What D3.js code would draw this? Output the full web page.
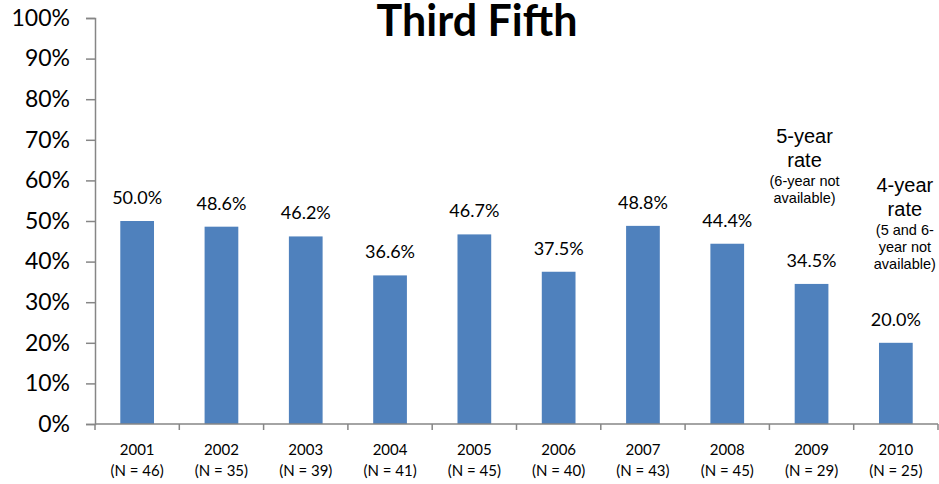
<!DOCTYPE html>
<html>
  <head>
    <meta charset="utf-8">
    <script src="https://d3js.org/d3.v7.min.js"></script>
    <title>Third Fifth</title>
    <style>
      body { margin: 0px; background: #fff; }
      svg { display: block; }
      .domain { stroke: #868686; stroke-width: 1.5px; }
      .tick line { stroke: #868686; stroke-width: 1.5px; }
      .y-axis .tick text { fill: #000; font-size: 23px; font-family: Lato, sans-serif; }
      .x-label { fill: #000; font-size: 15px; font-family: Lato, sans-serif; }
      .value-label { fill: #000; font-size: 18px; font-family: Lato, sans-serif; }
      .title { fill: #000; font-size: 43px; font-weight: bold; font-family: Lato, sans-serif; }
      .note-big { fill: #000; font-size: 20px; font-family: "Liberation Sans", Arial, sans-serif; }
      .note-small { fill: #000; font-size: 14.5px; font-family: "Liberation Sans", Arial, sans-serif; }
    </style>
  </head>
  <body>
    <svg width="939" height="484"></svg>
    <script>

      const years = ['2001', '2002', '2003', '2004', '2005', '2006', '2007', '2008', '2009', '2010'];
      const counts = [46, 35, 39, 41, 45, 40, 43, 45, 29, 25];
      const rates = [0.500, 0.486, 0.462, 0.366, 0.467, 0.375, 0.488, 0.444, 0.345, 0.200];
      const yTickValues = [0, 0.1, 0.2, 0.3, 0.4, 0.5, 0.6, 0.7, 0.8, 0.9, 1.0];
      const title = 'Third Fifth';

      // side notes above the last two bars
      const noteYears = ['2009', '2010'];
      const noteBig = [['5-year', 'rate'], ['4-year', 'rate']];
      const noteSmall = [['(6-year not', 'available)'], ['(5 and 6-', 'year not', 'available)']];
      const noteLevel = [0.692, 0.571];
      const noteShift = [-7, 9];

      const margin = { left: 95, right: 1, top: 18, bottom: 60 };

      const svg = d3.select('svg');
      const width = +svg.attr('width');
      const height = +svg.attr('height');
      const innerWidth = width - margin.left - margin.right;
      const innerHeight = height - margin.top - margin.bottom;

      const data = years.map((y, i) => ({ year: y, n: counts[i], rate: rates[i] }));

      const g = svg.append('g')
          .attr('transform', `translate(${margin.left},${margin.top})`);

      const xScale = d3.scaleBand()
        .domain(years)
        .range([0, innerWidth])
        .paddingInner(0.6)
        .paddingOuter(0.3);

      const xEdge = d3.scaleLinear()
        .domain([0, years.length])
        .range([0, innerWidth]);

      const yScale = d3.scaleLinear()
        .domain([0, 1])
        .range([innerHeight, 0]);

      const xMid = yr => xScale(yr) + xScale.bandwidth() / 2;

      // y axis
      const yAxis = d3.axisLeft(yScale)
        .tickValues(yTickValues)
        .tickFormat(d3.format('.0%'))
        .tickSize(9)
        .tickPadding(16);
      g.append('g').attr('class', 'y-axis').call(yAxis);

      // bars
      g.selectAll('rect.bar').data(data)
        .enter().append('rect')
          .attr('class', 'bar')
          .attr('x', d => xScale(d.year))
          .attr('y', d => yScale(d.rate))
          .attr('width', xScale.bandwidth())
          .attr('height', d => innerHeight - yScale(d.rate))
          .attr('fill', '#4F81BD');

      // x axis line and boundary ticks
      const xAxisG = g.append('g')
          .attr('transform', `translate(0,${innerHeight})`);
      xAxisG.append('line')
          .attr('class', 'domain')
          .attr('x1', 0).attr('x2', innerWidth);
      xAxisG.selectAll('line.tk').data(d3.range(years.length + 1))
        .enter().append('line')
          .attr('class', 'tk')
          .attr('stroke', '#868686')
          .attr('stroke-width', 1.5)
          .attr('x1', d => xEdge(d)).attr('x2', d => xEdge(d))
          .attr('y1', 0).attr('y2', 6);

      xAxisG.selectAll('text.x-year').data(data)
        .enter().append('text')
          .attr('class', 'x-label x-year')
          .attr('text-anchor', 'middle')
          .attr('x', d => xMid(d.year))
          .attr('y', 31)
          .text(d => d.year);
      xAxisG.selectAll('text.x-n').data(data)
        .enter().append('text')
          .attr('class', 'x-label x-n')
          .attr('text-anchor', 'middle')
          .attr('x', d => xMid(d.year))
          .attr('y', 52)
          .text(d => `(N = ${d.n})`);

      // value labels
      g.selectAll('text.value-label').data(data)
        .enter().append('text')
          .attr('class', 'value-label')
          .attr('text-anchor', 'middle')
          .attr('x', d => xMid(d.year))
          .attr('y', d => yScale(d.rate) - 17)
          .text(d => d3.format('.1%')(d.rate));

      // notes
      noteYears.forEach((yr, i) => {
        const cx = xMid(yr) + noteShift[i];
        const y0 = yScale(noteLevel[i]);
        noteBig[i].forEach((line, j) => {
          g.append('text').attr('class', 'note-big')
            .attr('text-anchor', 'middle')
            .attr('x', cx).attr('y', y0 + j * 24).text(line);
        });
        noteSmall[i].forEach((line, j) => {
          g.append('text').attr('class', 'note-small')
            .attr('text-anchor', 'middle')
            .attr('x', cx).attr('y', y0 + 24 + 19 + j * 17).text(line);
        });
      });

      // title
      svg.append('text')
          .attr('class', 'title')
          .attr('text-anchor', 'middle')
          .attr('x', 477)
          .attr('y', 36)
          .text(title);
    </script>
  </body>
</html>
